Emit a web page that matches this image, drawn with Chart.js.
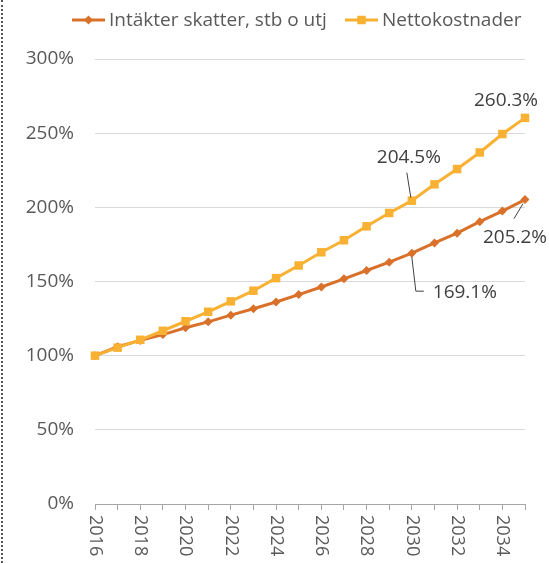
<!DOCTYPE html>
<html>
<head>
<meta charset="utf-8">
<script src="https://cdn.jsdelivr.net/npm/chart.js@4/dist/chart.umd.min.js"></script>
<style>
  html, body { margin: 0; padding: 0; background: #fff; }
  .wrap { position: relative; width: 549px; height: 563px; }
  .dots { position: absolute; left: 1px; top: 0; height: 563px; border-left: 2px dotted #555; }
</style>
</head>
<body>
<div class="wrap">
  <canvas id="chart" width="549" height="563"></canvas>
  <div class="dots"></div>
</div>
<script>
const years = ['2016', '2017', '2018', '2019', '2020', '2021', '2022', '2023', '2024', '2025',
  '2026', '2027', '2028', '2029', '2030', '2031', '2032', '2033', '2034', '2035'];
const intakter = [100, 106, 110.3, 114.2, 118.8, 122.8, 127.3, 131.6, 136.2, 141.2,
  146.3, 151.8, 157.4, 163, 169.1, 176, 182.6, 190.3, 197.5, 205.2];
const nettokostnader = [100, 105.4, 110.7, 116.8, 123.2, 129.6, 136.6, 143.8, 152.3, 160.8,
  169.7, 177.8, 187.2, 196.2, 204.5, 215.5, 225.8, 237, 249.4, 260.3];
const yTicks = [0, 50, 100, 150, 200, 250, 300];

const ORANGE = '#D9712A';
const YELLOW = '#F8B133';
const TEXT = '#595959';
const FONT = '"Open Sans", sans-serif';

// callouts: dataset, point index, label text
const callouts = [
  { ds: 1, i: 19, text: '260.3%' },
  { ds: 1, i: 14, text: '204.5%' },
  { ds: 0, i: 19, text: '205.2%' },
  { ds: 0, i: 14, text: '169.1%' }
];
// offsets from the point (text centre + leader path)
const calloutPos = [
  { tx: -19, ty: -17, path: [] },
  { tx: -3, ty: -43, path: [[-5, -28], [-1, -3]] },
  { tx: -10, ty: 38, path: [[-2, 4], [-11, 19]] },
  { tx: 53, ty: 39, path: [[0, 4], [4, 38], [12, 38]] }
];

const extras = {
  id: 'extras',
  afterDraw(chart) {
    const ctx = chart.ctx;
    const xs = chart.scales.x;
    const area = chart.chartArea;
    ctx.save();

    // x labels, rotated clockwise
    ctx.fillStyle = TEXT;
    ctx.font = '18px ' + FONT;
    ctx.textAlign = 'left';
    ctx.textBaseline = 'middle';
    years.forEach((y, i) => {
      if (i % 2) return;
      ctx.save();
      ctx.translate(xs.getPixelForValue(i), area.bottom + 11);
      ctx.rotate(Math.PI / 2);
      ctx.fillText(y, 0, 0);
      ctx.restore();
    });

    // callouts
    ctx.font = '19px ' + FONT;
    ctx.textAlign = 'center';
    ctx.fillStyle = '#404040';
    ctx.strokeStyle = '#404040';
    ctx.lineWidth = 1;
    callouts.forEach((c, k) => {
      const pt = chart.getDatasetMeta(c.ds).data[c.i];
      const p = calloutPos[k];
      if (p.path.length) {
        ctx.beginPath();
        p.path.forEach(([dx, dy], j) => {
          if (j === 0) ctx.moveTo(pt.x + dx, pt.y + dy);
          else ctx.lineTo(pt.x + dx, pt.y + dy);
        });
        ctx.stroke();
      }
      ctx.fillText(c.text, pt.x + p.tx, pt.y + p.ty);
    });

    // legend
    const items = [
      { x: 72, label: 'Intäkter skatter, stb o utj', color: ORANGE, style: 'rectRot', r: 4.5 },
      { x: 345, label: 'Nettokostnader', color: YELLOW, style: 'rect', r: 6 }
    ];
    ctx.font = '19px ' + FONT;
    ctx.textAlign = 'left';
    items.forEach(it => {
      ctx.strokeStyle = it.color;
      ctx.lineWidth = 3;
      ctx.beginPath();
      ctx.moveTo(it.x, 20);
      ctx.lineTo(it.x + 33, 20);
      ctx.stroke();
      ctx.fillStyle = it.color;
      Chart.helpers.drawPoint(ctx, { pointStyle: it.style, radius: it.r, borderWidth: 0 }, it.x + 16.5, 20);
      ctx.fillStyle = TEXT;
      ctx.fillText(it.label, it.x + 37, 21);
    });
    ctx.restore();
  }
};

new Chart(document.getElementById('chart'), {
  type: 'line',
  data: {
    labels: years,
    datasets: [
      {
        label: 'Intäkter skatter, stb o utj',
        data: intakter,
        borderColor: ORANGE,
        backgroundColor: ORANGE,
        borderWidth: 3,
        pointStyle: 'rectRot',
        pointRadius: 4.5,
        pointBorderWidth: 0,
        tension: 0,
        order: 1
      },
      {
        label: 'Nettokostnader',
        data: nettokostnader,
        borderColor: YELLOW,
        backgroundColor: YELLOW,
        borderWidth: 3,
        pointStyle: 'rect',
        pointRadius: 6,
        pointBorderWidth: 0,
        tension: 0,
        order: 0
      }
    ]
  },
  options: {
    responsive: false,
    animation: false,
    layout: { padding: { top: 59, right: 24, left: 0, bottom: 0 } },
    plugins: {
      legend: { display: false },
      tooltip: { enabled: false }
    },
    scales: {
      x: {
        offset: false,
        grid: { drawOnChartArea: false, drawTicks: true, tickLength: 6, color: '#a6a6a6' },
        border: { color: '#a6a6a6', width: 1 },
        ticks: { display: false },
        afterFit: s => { s.height = 59; }
      },
      y: {
        min: 0,
        max: 300,
        afterBuildTicks: s => { s.ticks = yTicks.map(v => ({ value: v })); },
        grid: { color: '#d9d9d9', drawTicks: false },
        border: { display: false },
        ticks: {
          padding: 21,
          color: TEXT,
          font: { family: FONT, size: 19 },
          callback: v => v + '%'
        },
        afterFit: s => { s.width = 95; }
      }
    }
  },
  plugins: [extras]
});
</script>
</body>
</html>
